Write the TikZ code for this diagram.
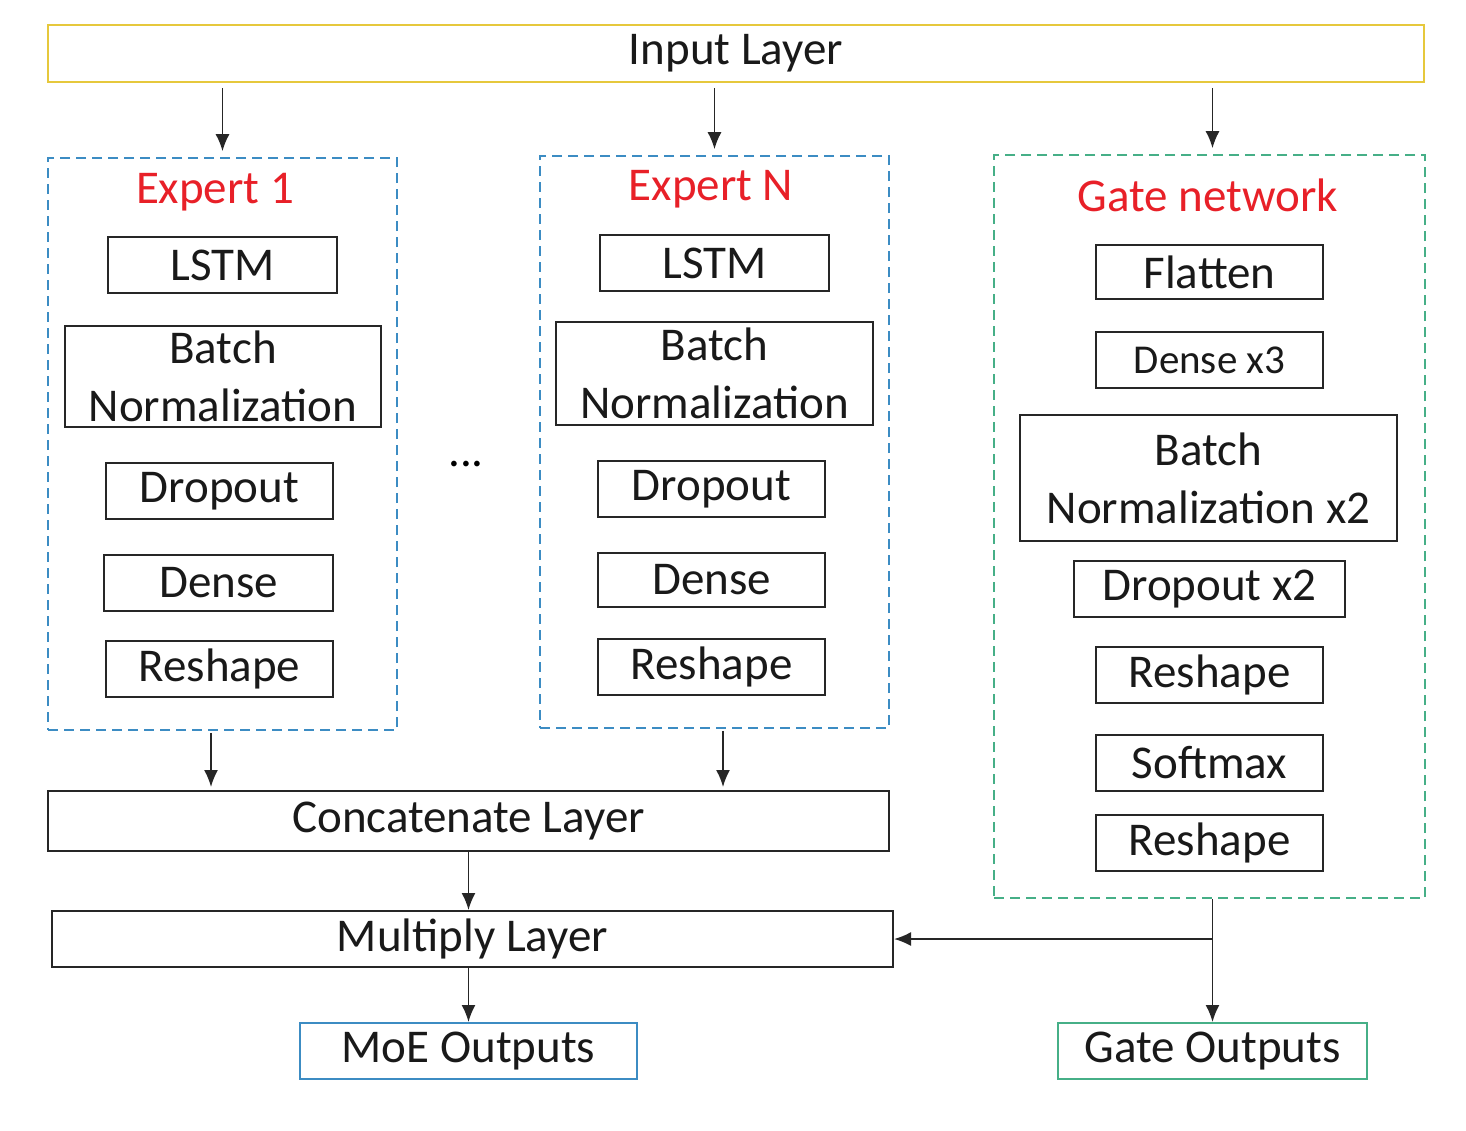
\documentclass[tikz,border=0pt]{standalone}
\usepackage{fontspec}
\setmainfont{Carlito}
\usetikzlibrary{arrows.meta}
\definecolor{inyellow}{RGB}{230,200,60}
\definecolor{expblue}{RGB}{60,140,195}
\definecolor{gategreen}{RGB}{70,175,135}
\definecolor{titlered}{RGB}{232,32,40}
\tikzset{
  lay/.style={draw=black!85, line width=1pt, inner sep=0pt, align=center,
    font=\fontsize{23.5}{29}\selectfont, text=black!90},
  grp/.style={line width=0.8pt, dash pattern=on 5pt off 3pt, inner sep=0pt},
  ttl/.style={font=\fontsize{23.5}{29}\selectfont, text=titlered, inner sep=0pt},
  arr/.style={draw=black!85, line width=0.9pt, -{Latex[length=8.5pt,width=7pt]}},
}
\begin{document}
\begin{tikzpicture}[x=0.5pt,y=-0.5pt]
\useasboundingbox[fill=white] (0,0) rectangle (1466,1130);
% input
\node[lay, draw=inyellow, minimum width=688pt, minimum height=28.5pt] (input) at (736,53.5) {Input Layer};
% expert 1
\node[grp, draw=expblue, minimum width=174.5pt, minimum height=286pt] (e1box) at (222.5,444) {};
\node[ttl] (e1title) at (215,192) {Expert 1};
\node[lay, minimum width=114.5pt, minimum height=28pt] (e1lstm) at (222.5,265) {LSTM};
\node[lay, minimum width=158pt, minimum height=50.5pt] (e1bn) at (223,376.5) {Batch\\Normalization};
\node[lay, minimum width=113.5pt, minimum height=28pt] (e1drop) at (219.5,491) {Dropout};
\node[lay, minimum width=114.5pt, minimum height=28pt] (e1dense) at (218.5,583) {Dense};
\node[lay, minimum width=113.5pt, minimum height=28pt] (e1resh) at (219.5,669) {Reshape};
% dots
\node[font=\fontsize{23.5}{29}\selectfont, inner sep=0pt] (dots) at (466,464) {...};
% expert N
\node[grp, draw=expblue, minimum width=174.5pt, minimum height=286pt] (enbox) at (714.5,442) {};
\node[ttl] (entitle) at (711,189) {Expert N};
\node[lay, minimum width=114.5pt, minimum height=28pt] (enlstm) at (714.5,263) {LSTM};
\node[lay, minimum width=158.5pt, minimum height=51.5pt] (enbn) at (714.5,373.5) {Batch\\Normalization};
\node[lay, minimum width=113.5pt, minimum height=28pt] (endrop) at (711.5,489) {Dropout};
\node[lay, minimum width=113.5pt, minimum height=27pt] (endense) at (711.5,580) {Dense};
\node[lay, minimum width=113.5pt, minimum height=28pt] (enresh) at (711.5,667) {Reshape};
% gate network
\node[grp, draw=gategreen, minimum width=215.5pt, minimum height=371.5pt] (gatebox) at (1209.5,526.5) {};
\node[ttl] (gtitle) at (1208,195) {Gate network};
\node[lay, minimum width=113.5pt, minimum height=27pt] (gflat) at (1209.5,272) {Flatten};
\node[lay, minimum width=113.5pt, minimum height=28pt, font=\fontsize{20.5}{25}\selectfont] (gdense) at (1209.5,360) {Dense x3};
\node[lay, minimum width=188.5pt, minimum height=63pt] (gbn) at (1208.5,478) {Batch\\Normalization x2};
\node[lay, minimum width=135.5pt, minimum height=28pt] (gdrop) at (1209.5,589) {Dropout x2};
\node[lay, minimum width=113.5pt, minimum height=28pt] (gresh) at (1209.5,675) {Reshape};
\node[lay, minimum width=113.5pt, minimum height=28pt] (gsoft) at (1209.5,763) {Softmax};
\node[lay, minimum width=113.5pt, minimum height=28pt] (gresh2) at (1209.5,843) {Reshape};
% bottom layers
\node[lay, minimum width=420.5pt, minimum height=30pt] (concat) at (468.5,821) {Concatenate Layer};
\node[lay, minimum width=420.5pt, minimum height=28pt] (mult) at (472.5,939) {Multiply Layer};
\node[lay, draw=expblue, minimum width=168.5pt, minimum height=28pt] (moe) at (468.5,1051) {MoE Outputs};
\node[lay, draw=gategreen, minimum width=154.5pt, minimum height=28pt] (gout) at (1212.5,1051) {Gate Outputs};
% connectors
\coordinate (gin0) at (input.south -| gout.north);
\coordinate (gin1) at (gout.north |- gatebox.north);
\draw[arr, shorten <=2.5pt, shorten >=3pt] (input.south -| e1box.north) -- (e1box.north);
\draw[arr, shorten <=2.5pt, shorten >=3pt] (input.south -| enbox.north) -- (enbox.north);
\draw[arr, shorten <=2.5pt, shorten >=3pt] (gin0) -- (gin1);
\coordinate (e1out) at ([xshift=-5.75pt]e1box.south);
\coordinate (enout) at ([xshift=4.25pt]enbox.south);
\draw[arr, shorten <=1pt, shorten >=1.5pt] (e1out) -- (e1out |- concat.north);
\draw[arr, shorten <=1pt, shorten >=1.5pt] (enout) -- (enout |- concat.north);
\draw[arr] (concat.south -| moe.north) -- (moe.north |- mult.north);
\draw[arr] (mult.south -| moe.north) -- (moe.north);
\coordinate (gbot) at (gatebox.south -| gout.north);
\coordinate (branch) at (gout.north |- mult.east);
\draw[arr] (gbot) -- (gout.north);
\draw[arr] (branch) -- (mult.east);
\end{tikzpicture}
\end{document}
